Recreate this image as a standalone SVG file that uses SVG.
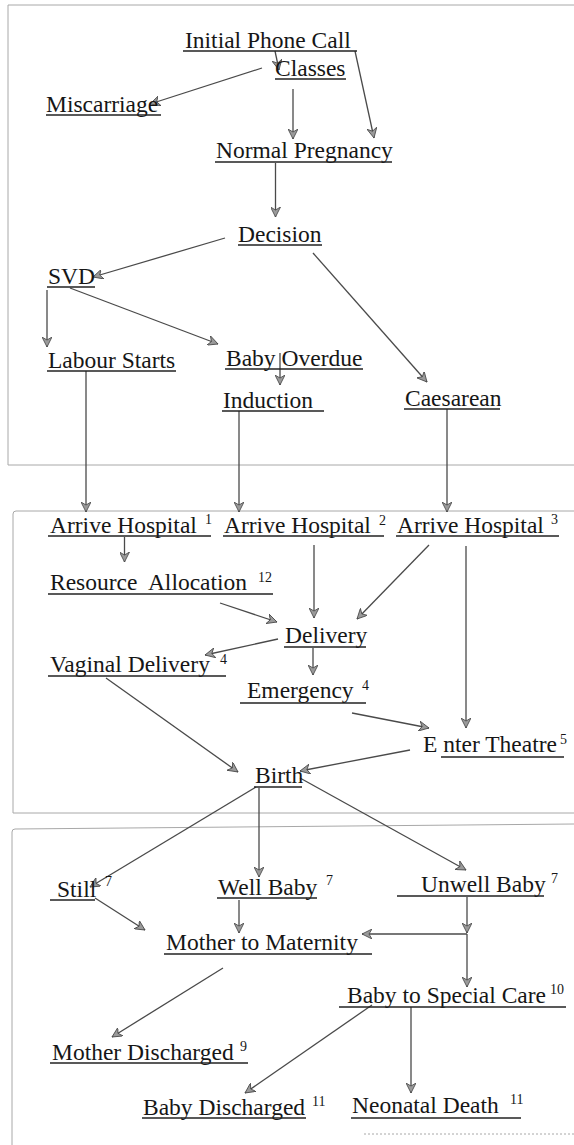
<svg xmlns="http://www.w3.org/2000/svg" width="574" height="1145" viewBox="0 0 574 1145">
<defs>
<style>
.t{font-family:"Liberation Serif","Times New Roman",serif;font-size:23.5px;fill:#161616}
.s{font-family:"Liberation Serif","Times New Roman",serif;font-size:14px;fill:#161616}
.u{stroke:#222;stroke-width:1.5;fill:none}
.c line,.c path{stroke:#4a4a4a;stroke-width:1.3;fill:none;marker-end:url(#ah)}
.box{stroke:#a8a8a8;stroke-width:1;fill:none}
</style>
<marker id="ah" markerUnits="userSpaceOnUse" markerWidth="11" markerHeight="10" refX="10" refY="5" orient="auto">
<path d="M0,0 L10,5 L0,10 L3,5 Z" fill="#9a9a9a" stroke="#444" stroke-width="0.8"/>
</marker>
</defs>
<rect width="574" height="1145" fill="#fff"/>
<g id="frames">
<path class="box" d="M574 5 H8 V465 H574"/>
<path class="box" d="M574 511 H16 Q13 511 13 514 V813 H574"/>
<path class="box" d="M574 824 L15 829 Q12 829 12 832 V1145"/>
<path class="box" d="M364 1134 H574" stroke-dasharray="2 2"/>
</g>
<g class="c" id="connectors">
<line x1="275" y1="51" x2="279" y2="70"/>
<line x1="355" y1="51" x2="374" y2="138"/>
<line x1="262" y1="68" x2="150" y2="104"/>
<line x1="293" y1="89" x2="293" y2="139"/>
<line x1="275.5" y1="163" x2="275.5" y2="217"/>
<line x1="225" y1="238" x2="93" y2="277"/>
<line x1="313" y1="253" x2="427" y2="382"/>
<line x1="70" y1="288" x2="218" y2="344"/>
<line x1="47" y1="290" x2="47" y2="347"/>
<line x1="280" y1="353" x2="280" y2="385"/>
<line x1="86" y1="371" x2="86" y2="512"/>
<line x1="239" y1="411" x2="239" y2="512"/>
<line x1="447" y1="409" x2="447" y2="512"/>
<line x1="124.5" y1="537" x2="124.5" y2="562"/>
<line x1="314" y1="545" x2="314" y2="618"/>
<line x1="429" y1="545" x2="357" y2="619"/>
<line x1="466" y1="546" x2="466" y2="728"/>
<line x1="220" y1="603" x2="277" y2="622"/>
<line x1="278" y1="639" x2="205" y2="655"/>
<line x1="313" y1="648" x2="313" y2="675"/>
<line x1="352" y1="713" x2="429" y2="728"/>
<line x1="106" y1="678" x2="238" y2="772"/>
<line x1="410" y1="750" x2="300" y2="771"/>
<line x1="256" y1="787" x2="90" y2="887"/>
<line x1="259" y1="788" x2="259" y2="877"/>
<line x1="300" y1="778" x2="466" y2="870"/>
<line x1="95" y1="898" x2="145" y2="930"/>
<line x1="239" y1="900" x2="239" y2="933"/>
<line x1="467" y1="897" x2="467" y2="933"/>
<line x1="467" y1="934" x2="362" y2="934"/>
<line x1="467" y1="934" x2="467" y2="987"/>
<line x1="223" y1="968" x2="112" y2="1037"/>
<line x1="372" y1="1005" x2="245" y2="1093"/>
<line x1="411" y1="1007" x2="411" y2="1093"/>
</g>
<g id="n-initial"><text class="t" x="185" y="48">Initial Phone Call</text><line class="u" x1="183" y1="51" x2="357" y2="51"/></g>
<g id="n-classes"><text class="t" x="275" y="76">Classes</text><line class="u" x1="275" y1="79" x2="346" y2="79"/></g>
<g id="n-miscarriage"><text class="t" x="46" y="112">Miscarriage</text><line class="u" x1="46" y1="115" x2="161" y2="115"/></g>
<g id="n-normal"><text class="t" x="216" y="158">Normal Pregnancy</text><line class="u" x1="215" y1="162" x2="392" y2="162"/></g>
<g id="n-decision"><text class="t" x="238" y="242">Decision</text><line class="u" x1="238" y1="245" x2="322" y2="245"/></g>
<g id="n-svd"><text class="t" x="48" y="284">SVD</text><line class="u" x1="47" y1="287" x2="95" y2="287"/></g>
<g id="n-labour"><text class="t" x="48" y="368">Labour Starts</text><line class="u" x1="47" y1="371" x2="176" y2="371"/></g>
<g id="n-overdue"><text class="t" x="226" y="366">Baby Overdue</text><line class="u" x1="225" y1="369" x2="363" y2="369"/></g>
<g id="n-induction"><text class="t" x="223" y="408">Induction</text><line class="u" x1="222" y1="411" x2="324" y2="411"/></g>
<g id="n-caesarean"><text class="t" x="405" y="406">Caesarean</text><line class="u" x1="404" y1="409" x2="500" y2="409"/></g>
<g id="n-arrive1"><text class="t" x="50" y="533">Arrive Hospital</text><text class="s" x="205" y="524">1</text><line class="u" x1="48" y1="536" x2="211" y2="536"/></g>
<g id="n-arrive2"><text class="t" x="224" y="533">Arrive Hospital</text><text class="s" x="379" y="525">2</text><line class="u" x1="223" y1="536" x2="384" y2="536"/></g>
<g id="n-arrive3"><text class="t" x="397" y="533">Arrive Hospital</text><text class="s" x="551" y="524">3</text><line class="u" x1="396" y1="536" x2="559" y2="536"/></g>
<g id="n-resource"><text class="t" x="50" y="590" style="white-space:pre">Resource  Allocation</text><text class="s" x="258" y="582">12</text><line class="u" x1="48" y1="594" x2="273" y2="594"/></g>
<g id="n-delivery"><text class="t" x="285" y="643">Delivery</text><line class="u" x1="284" y1="647" x2="366" y2="647"/></g>
<g id="n-vaginal"><text class="t" x="50" y="672">Vaginal Delivery</text><text class="s" x="220" y="664">4</text><line class="u" x1="48" y1="676" x2="226" y2="676"/></g>
<g id="n-emergency"><text class="t" x="247" y="698">Emergency</text><text class="s" x="362" y="690">4</text><line class="u" x1="240" y1="703" x2="366" y2="703"/></g>
<g id="n-theatre"><text class="t" x="423" y="752">E nter Theatre</text><text class="s" x="560" y="744">5</text><line class="u" x1="441" y1="757" x2="564" y2="757"/></g>
<g id="n-birth"><text class="t" x="255" y="783">Birth</text><line class="u" x1="254" y1="787" x2="302" y2="787"/></g>
<g id="n-still"><text class="t" x="57" y="897">Still</text><text class="s" x="105" y="886">7</text><line class="u" x1="50" y1="900" x2="95" y2="900"/></g>
<g id="n-well"><text class="t" x="218" y="895">Well Baby</text><text class="s" x="326" y="885">7</text><line class="u" x1="217" y1="898" x2="317" y2="898"/></g>
<g id="n-unwell"><text class="t" x="421" y="892">Unwell Baby</text><text class="s" x="551" y="883">7</text><line class="u" x1="397" y1="896" x2="544" y2="896"/></g>
<g id="n-maternity"><text class="t" x="166" y="950">Mother to Maternity</text><line class="u" x1="164" y1="954" x2="372" y2="954"/></g>
<g id="n-special"><text class="t" x="347" y="1003">Baby to Special Care</text><text class="s" x="550" y="994">10</text><line class="u" x1="339" y1="1007" x2="566" y2="1007"/></g>
<g id="n-motherdis"><text class="t" x="52" y="1060">Mother Discharged</text><text class="s" x="240" y="1051">9</text><line class="u" x1="50" y1="1063" x2="248" y2="1063"/></g>
<g id="n-babydis"><text class="t" x="143" y="1115">Baby Discharged</text><text class="s" x="312" y="1106">11</text><line class="u" x1="142" y1="1118" x2="306" y2="1118"/></g>
<g id="n-neonatal"><text class="t" x="352" y="1113">Neonatal Death</text><text class="s" x="510" y="1104">11</text><line class="u" x1="351" y1="1118" x2="521" y2="1118"/></g>
</svg>
